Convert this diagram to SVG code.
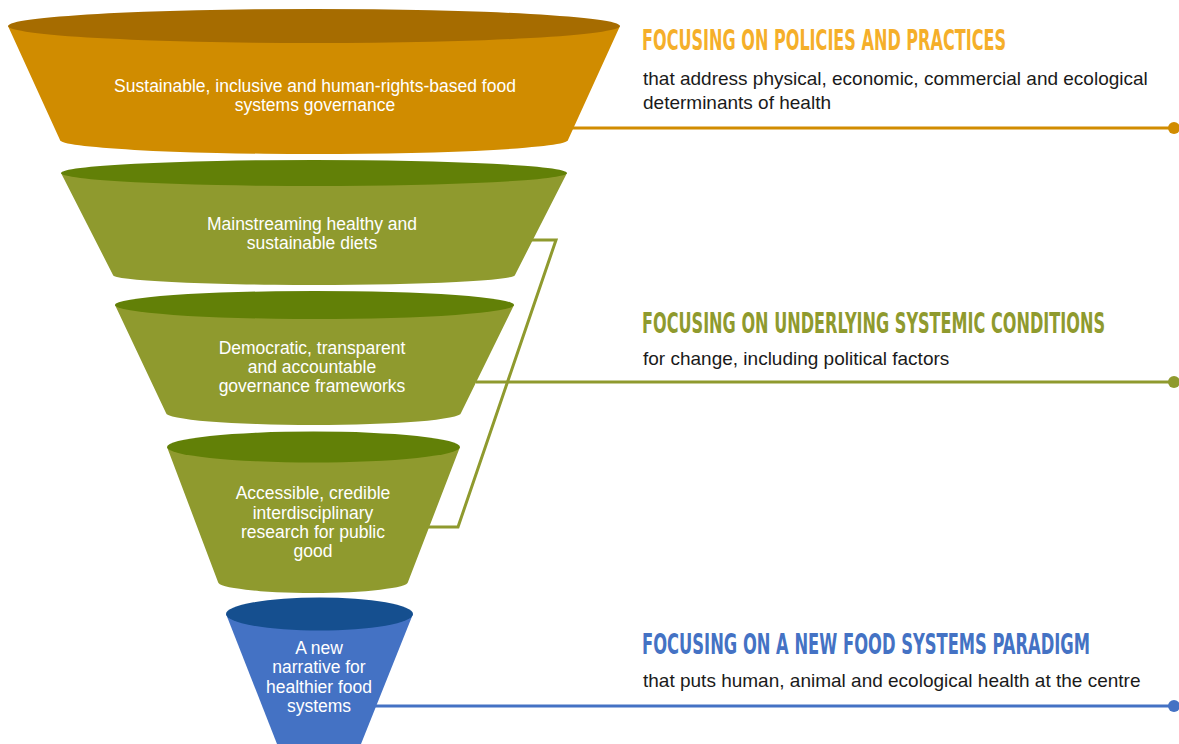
<svg xmlns="http://www.w3.org/2000/svg" width="1179" height="744" viewBox="0 0 1179 744">
<style>
.ftxt{font-family:"Liberation Sans",Arial,sans-serif;font-size:17.5px;fill:#ffffff;text-anchor:middle}
.head{font-family:"Liberation Sans Narrow","DejaVu Sans Condensed","Liberation Sans",sans-serif;font-weight:bold;font-size:20px}
.sub{font-family:"Liberation Sans",Arial,sans-serif;font-size:19px;fill:#1a1a1a}
.conn{fill:none;stroke-width:3}
</style>
<rect width="1179" height="744" fill="#ffffff"/>
<g id="connectors">
<line class="conn" x1="566" y1="128" x2="1174" y2="128" stroke="#D18C00"/>
<circle cx="1174" cy="128" r="6" fill="#D18C00"/>
<polyline class="conn" points="530,240 556,240 458,527 428,527" stroke="#8F9A2E"/>
<line class="conn" x1="476" y1="382" x2="1174" y2="382" stroke="#8F9A2E"/>
<circle cx="1174" cy="382" r="6" fill="#8F9A2E"/>
<line class="conn" x1="372" y1="706" x2="1174" y2="706" stroke="#4472C4"/>
<circle cx="1174" cy="706" r="6" fill="#4472C4"/>
</g>
<g id="funnel-orange">
<path d="M8,26 L60,140 A254,14 0 0 0 568,140 L620,26 Z" fill="#D08C00"/>
<ellipse cx="314" cy="26" rx="306" ry="17" fill="#A66C00"/>
<text class="ftxt" x="315" y="92">Sustainable, inclusive and human-rights-based food</text>
<text class="ftxt" x="315" y="111">systems governance</text>
</g>
<g id="funnel-green-1">
<path d="M61,173 L113,275 A201,10 0 0 0 515,275 L567,173 Z" fill="#8F9A2E"/>
<ellipse cx="314" cy="173" rx="253" ry="13" fill="#628007"/>
<text class="ftxt" x="312" y="230">Mainstreaming healthy and</text>
<text class="ftxt" x="312" y="249">sustainable diets</text>
</g>
<g id="funnel-green-2">
<path d="M115,305 L166,413 A147.5,12 0 0 0 461,413 L514,305 Z" fill="#8F9A2E"/>
<ellipse cx="314.5" cy="305" rx="199.5" ry="14" fill="#628007"/>
<text class="ftxt" x="312" y="354">Democratic, transparent</text>
<text class="ftxt" x="312" y="373">and accountable</text>
<text class="ftxt" x="312" y="392">governance frameworks</text>
</g>
<g id="funnel-green-3">
<path d="M167,447 L218,582 A95,11 0 0 0 408,582 L460,447 Z" fill="#8F9A2E"/>
<ellipse cx="313.5" cy="447" rx="146.5" ry="15.5" fill="#628007"/>
<text class="ftxt" x="313" y="499">Accessible, credible</text>
<text class="ftxt" x="313" y="519">interdisciplinary</text>
<text class="ftxt" x="313" y="538">research for public</text>
<text class="ftxt" x="313" y="557">good</text>
</g>
<g id="funnel-blue">
<path d="M226,614 L277,744 L361,744 L413,614 Z" fill="#4472C4"/>
<ellipse cx="319.5" cy="614" rx="93.5" ry="16.5" fill="#154F8F"/>
<text class="ftxt" x="319" y="654">A new</text>
<text class="ftxt" x="319" y="673">narrative for</text>
<text class="ftxt" x="319" y="693">healthier food</text>
<text class="ftxt" x="319" y="712">systems</text>
</g>
<g id="label-policies">
<text class="head" transform="translate(642,50) scale(1,1.42)" x="0" y="0" fill="#F5AF2A" textLength="364" lengthAdjust="spacingAndGlyphs">FOCUSING ON POLICIES AND PRACTICES</text>
<text class="sub" x="643" y="85">that address physical, economic, commercial and ecological</text>
<text class="sub" x="643" y="109">determinants of health</text>
</g>
<g id="label-systemic">
<text class="head" transform="translate(642,333) scale(1,1.42)" x="0" y="0" fill="#8F9A2E" textLength="463" lengthAdjust="spacingAndGlyphs">FOCUSING ON UNDERLYING SYSTEMIC CONDITIONS</text>
<text class="sub" x="643" y="365">for change, including political factors</text>
</g>
<g id="label-paradigm">
<text class="head" transform="translate(642,654) scale(1,1.42)" x="0" y="0" fill="#4472C4" textLength="448" lengthAdjust="spacingAndGlyphs">FOCUSING ON A NEW FOOD SYSTEMS PARADIGM</text>
<text class="sub" x="643" y="687">that puts human, animal and ecological health at the centre</text>
</g>
</svg>
